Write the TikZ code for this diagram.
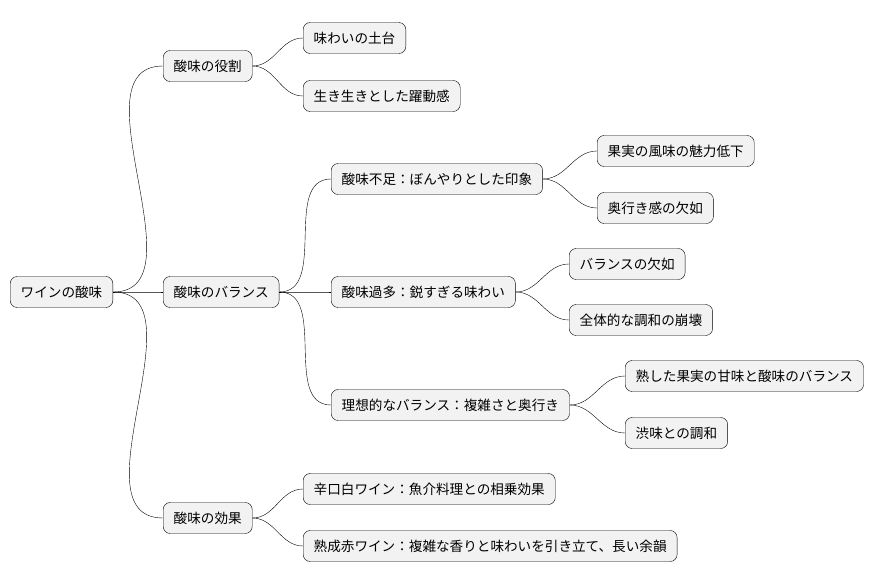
\documentclass[tikz,border=0pt]{standalone}
\usepackage{fontspec}
\setmainfont{Noto Sans CJK JP}
\usetikzlibrary{positioning}
\begin{document}
\begin{tikzpicture}[x=1pt,y=-1pt]
    % Define styles
    \tikzstyle{topic} = [rectangle, draw, fill=black!5, rounded corners=7pt, minimum height=31pt, inner xsep=10.5pt, anchor=west, font=\fontsize{13.6}{16}\selectfont]
    \tikzstyle{link} = [thin, out=0, in=180]
    \useasboundingbox (0,0) rectangle (880,583);

    % Topics
    \node[topic] (root) at (10,292) {ワインの酸味};
    \node[topic] (role) at (163,66) {酸味の役割};
    \node[topic] (bal) at (163,292) {酸味のバランス};
    \node[topic] (eff) at (163,518) {酸味の効果};
    \node[topic] (base) at (303,38) {味わいの土台};
    \node[topic] (live) at (303,96) {生き生きとした躍動感};
    \node[topic] (low) at (331,179) {酸味不足：ぼんやりとした印象};
    \node[topic] (fruit) at (597,151) {果実の風味の魅力低下};
    \node[topic] (depth) at (597,208) {奥行き感の欠如};
    \node[topic] (high) at (331,292) {酸味過多：鋭すぎる味わい};
    \node[topic] (lack) at (569,264) {バランスの欠如};
    \node[topic] (harm) at (569,320) {全体的な調和の崩壊};
    \node[topic] (ideal) at (331,405) {理想的なバランス：複雑さと奥行き};
    \node[topic] (ripe) at (625,376) {熟した果実の甘味と酸味のバランス};
    \node[topic] (tann) at (625,433) {渋味との調和};
    \node[topic] (white) at (303,489) {辛口白ワイン：魚介料理との相乗効果};
    \node[topic] (red) at (303,546) {熟成赤ワイン：複雑な香りと味わいを引き立て、長い余韻};

    % Links
    \foreach \a/\b in {root/role, root/bal, root/eff, role/base, role/live,
        bal/low, bal/high, bal/ideal, low/fruit, low/depth, high/lack, high/harm,
        ideal/ripe, ideal/tann, eff/white, eff/red}
        \draw[link] (\a.east) to (\b.west);
\end{tikzpicture}
\end{document}
